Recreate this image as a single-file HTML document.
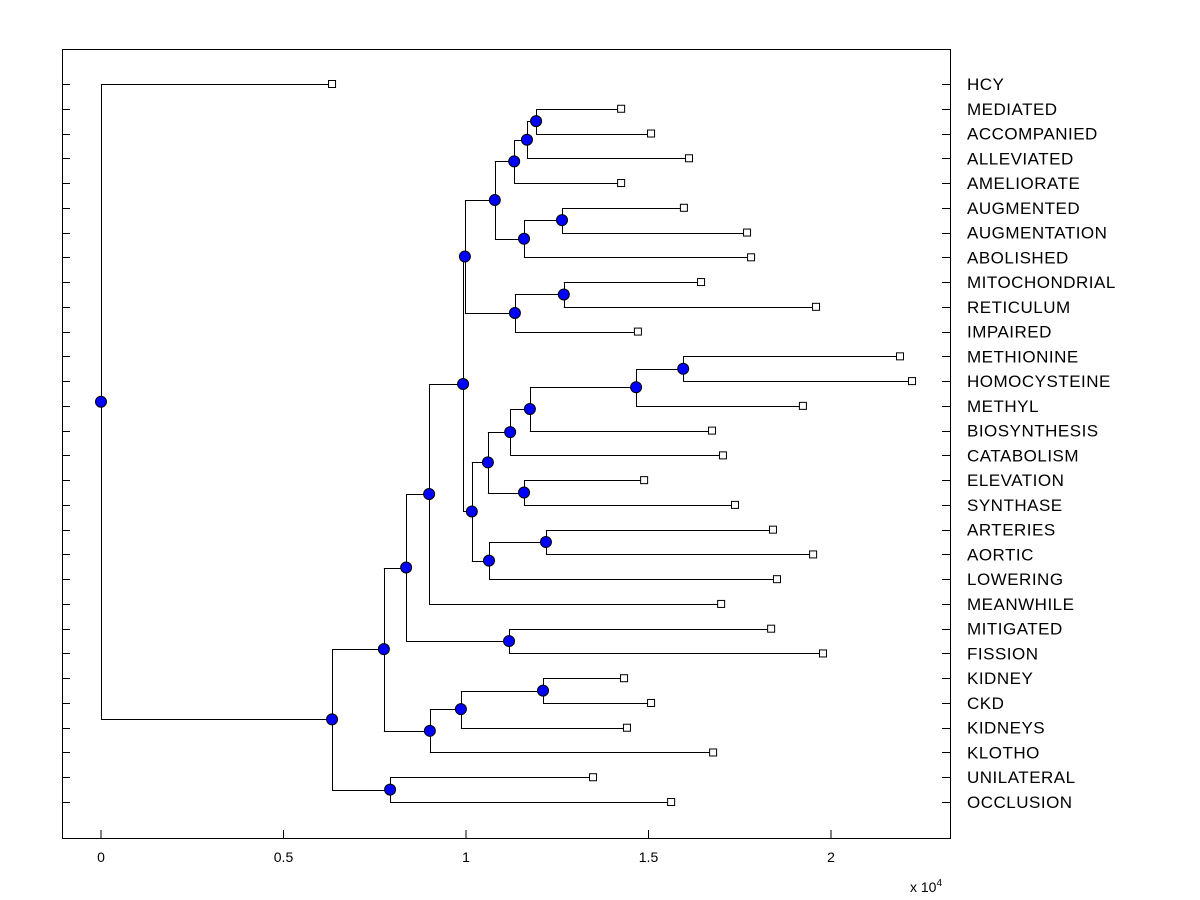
<!DOCTYPE html>
<html><head><meta charset="utf-8"><style>
body{margin:0;background:#fff;}
svg{display:block;font-family:"Liberation Sans",Arial,sans-serif;}
</style></head><body>
<svg id="chart" width="1200" height="900" viewBox="0 0 1200 900">
<rect x="0" y="0" width="1200" height="900" fill="#fff"/>
<rect x="62.5" y="49.5" width="888" height="789" fill="none" stroke="#000"/>
<g id="axis"></g><g id="links"></g><g id="marks"></g><g id="labels"></g>
<text x="910" y="892" font-size="14">x 10<tspan dy="-6" font-size="10">4</tspan></text>
</svg>
<script>
const leafNames=["HCY","MEDIATED","ACCOMPANIED","ALLEVIATED","AMELIORATE","AUGMENTED","AUGMENTATION","ABOLISHED","MITOCHONDRIAL","RETICULUM","IMPAIRED","METHIONINE","HOMOCYSTEINE","METHYL","BIOSYNTHESIS","CATABOLISM","ELEVATION","SYNTHASE","ARTERIES","AORTIC","LOWERING","MEANWHILE","MITIGATED","FISSION","KIDNEY","CKD","KIDNEYS","KLOTHO","UNILATERAL","OCCLUSION"];
const leafValues=[0.633,1.425,1.507,1.611,1.425,1.597,1.770,1.781,1.644,1.959,1.471,2.189,2.222,1.923,1.674,1.704,1.488,1.737,1.841,1.951,1.852,1.699,1.836,1.978,1.433,1.507,1.441,1.677,1.348,1.562];
const mergeLeft=[1,30,31,5,33,32,8,36,35,11,39,40,41,16,42,18,45,44,38,48,22,49,24,52,53,51,28,55,0];
const mergeRight=[2,3,4,6,7,34,9,10,37,12,13,14,15,17,43,19,20,46,47,21,23,50,25,26,27,54,29,56,57];
const mergeHeights=[1.192,1.167,1.132,1.263,1.159,1.079,1.268,1.134,0.997,1.595,1.466,1.175,1.121,1.159,1.060,1.219,1.063,1.016,0.992,0.899,1.118,0.836,1.211,0.986,0.901,0.775,0.792,0.633,0];
const xTicks=[0,0.5,1,1.5,2];
const xTickLabels=["0","0.5","1","1.5","2"];

const NS="http://www.w3.org/2000/svg";
const xs=v=>101+v*365;
const ys=i=>84+i*(802-84)/29;
function mk(tag,attrs,parent){const e=document.createElementNS(NS,tag);for(const k in attrs)e.setAttribute(k,attrs[k]);document.getElementById(parent).appendChild(e);return e;}

xTicks.forEach((t,i)=>{
  const a=mk('line',{x1:xs(t),x2:xs(t),y1:838,y2:830,stroke:'#000'},'axis');
  
  
  const b=mk('text',{x:xs(t),y:862,'font-size':14,'text-anchor':'middle'},'axis');
  b.textContent=xTickLabels[i];
  
  
});
leafNames.forEach((n,i)=>{
  const y=Math.round(ys(i))+0.5;
  const l1=mk('line',{x1:62,x2:70,y1:y,y2:y,stroke:'#000'},'axis');
  
  
  const l2=mk('line',{x1:942,x2:950,y1:y,y2:y,stroke:'#000'},'axis');
  
  
  const t=mk('text',{x:967,y:ys(i)+6,'font-size':17,'letter-spacing':0.5},'labels');
  t.textContent=n;
  
  
});

const nodeX=leafValues.slice(), nodeY=leafNames.map((_,i)=>ys(i));
mergeLeft.forEach((a,k)=>{
  const b=mergeRight[k], h=mergeHeights[k], id=30+k;
  nodeX[id]=h; nodeY[id]=(nodeY[a]+nodeY[b])/2;
  const px=xs(h);
  [a,b].forEach(c=>{
    const ln=mk('line',{x1:px,x2:xs(nodeX[c]),y1:Math.round(nodeY[c])+0.5,y2:Math.round(nodeY[c])+0.5,stroke:'#000'},'links');
    
    
  });
  const v=mk('line',{x1:Math.round(px)+0.5,x2:Math.round(px)+0.5,y1:Math.round(nodeY[a])+0.5,y2:Math.round(nodeY[b])+0.5,stroke:'#000'},'links');
  
  
  const c=mk('circle',{cx:px,cy:nodeY[id],r:5.5,fill:'#0000ff',stroke:'#000','stroke-width':1},'marks');
  
  
});
leafValues.forEach((v,i)=>{
  const r=mk('rect',{x:xs(v)-3.5,y:ys(i)-3.5,width:7,height:7,fill:'#fff',stroke:'#000'},'marks');
  
  
});
</script>
</body></html>
